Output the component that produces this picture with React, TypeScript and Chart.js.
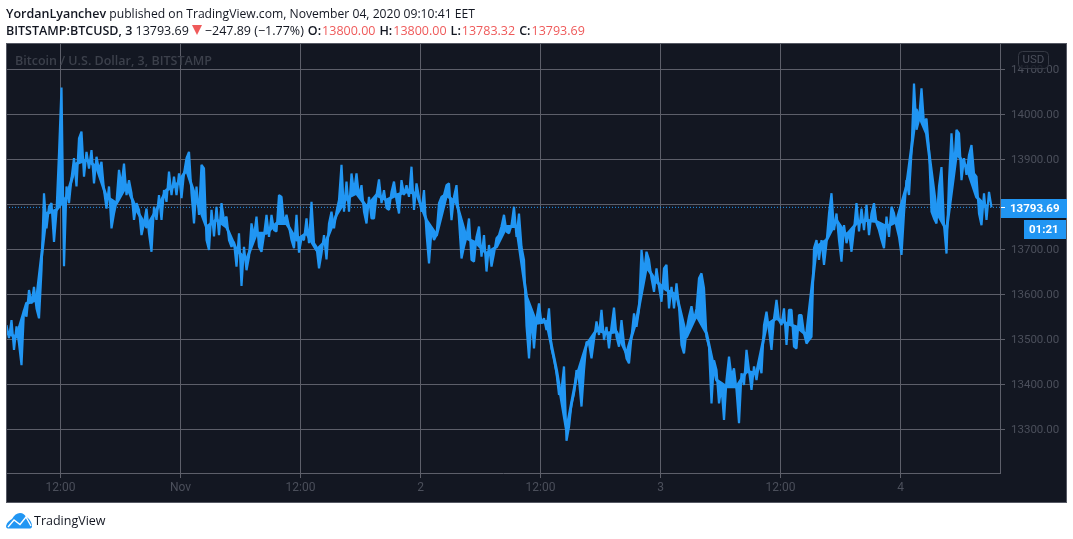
import { useEffect, useRef } from 'react';
import { Chart, registerables } from 'chart.js';

Chart.register(...registerables);

// 15 minute samples, t in hours from Oct 31 00:00
const startHour = 6.6;
const stepHours = 0.25;
// centre of the price band, read every hour; the trace is filled against it to close up the ribbon
const bandStepHours = 1;

const pricesOct31 = [
  13532, 13503, 13543, 13477, 13529, 13491, 13443, 13566, 13551, 13610, 13580, 13617, 13569, 13547, 13654, 13825,
  13747, 13795, 13803, 13717, 13784, 13914, 14060, 13663, 13840, 13803, 13858, 13903, 13840, 13947, 13962, 13862,
  13917, 13880, 13921, 13847, 13906, 13877, 13895, 13832, 13791, 13840, 13747, 13780, 13806, 13877, 13843, 13891,
  13821, 13854, 13825, 13766, 13803, 13788, 13732, 13758, 13791, 13736, 13695, 13795, 13766, 13821, 13766, 13832,
  13806, 13873, 13821, 13862, 13821, 13869, 13814, 13869, 13903, 13917, 13825, 13758, 13840, 13777, 13888, 13880,
  13721, 13699, 13788, 13729, 13795, 13732, 13803, 13766, 13773, 13721, 13706, 13717, 13662, 13736, 13619, 13706,
  13654, 13684, 13758, 13729, 13773, 13706,
];
const pricesNov1 = [
  13695, 13732, 13777, 13728, 13777, 13743, 13740, 13821, 13817, 13758, 13777, 13751, 13721, 13703, 13777, 13693,
  13725, 13721, 13769, 13714, 13806, 13714, 13706, 13658, 13691, 13732, 13678, 13758, 13784, 13747, 13784, 13810,
  13888, 13784, 13851, 13784, 13869, 13828, 13869, 13817, 13843, 13784, 13758, 13817, 13769, 13769, 13821, 13856,
  13803, 13832, 13792, 13788, 13828, 13851, 13810, 13780, 13854, 13821, 13843, 13817, 13884, 13788, 13847, 13817,
  13784, 13832, 13736, 13669, 13743, 13721, 13732, 13803, 13817, 13821, 13843, 13847, 13765, 13817, 13843, 13765,
  13680, 13706, 13728, 13769, 13677, 13673, 13728, 13751, 13684, 13732, 13651, 13710, 13662, 13691, 13725, 13732,
  13751, 13777, 13740, 13736, 13754, 13795, 13728, 13780, 13706, 13677, 13530,
];
const pricesNov2 = [
  13458, 13551, 13480, 13547, 13580, 13536, 13547, 13521, 13569, 13480, 13458, 13425, 13377, 13388, 13440, 13275,
  13306, 13358, 13380, 13432, 13410, 13351, 13432, 13495, 13491, 13458, 13499, 13540, 13510, 13566, 13499, 13528,
  13480, 13528, 13571, 13506, 13484, 13543, 13491, 13458, 13447, 13506, 13558, 13528, 13566, 13699, 13647, 13695,
  13677, 13636, 13606, 13658, 13617, 13584, 13658, 13666, 13569, 13617, 13569, 13625, 13573, 13488, 13469, 13521,
  13551, 13574, 13543, 13569, 13636, 13647, 13614, 13506, 13484, 13358, 13454, 13432, 13358, 13395, 13321, 13410,
  13462, 13417, 13436, 13388, 13314, 13425, 13399, 13477, 13432, 13388, 13440, 13410, 13447, 13425, 13532, 13562,
  13521, 13477, 13547, 13588, 13543, 13532, 13569, 13488, 13566, 13566, 13484, 13480, 13554, 13554, 13514, 13491,
];
const pricesNov3 = [
  13499, 13506, 13703, 13721, 13677, 13721, 13666, 13714, 13780, 13825, 13743, 13780, 13721, 13673, 13754, 13714,
  13740, 13695, 13743, 13803, 13740, 13791, 13743, 13799, 13732, 13780, 13803, 13758, 13743, 13721, 13703, 13773,
  13728, 13795, 13780, 13751, 13728, 13688, 13780, 13854, 13821, 13917, 14069, 13966, 13988, 14058, 13980, 13991,
  13921, 13784, 13769, 13758, 13840, 13883, 13754, 13691, 13854, 13958, 13877, 13966, 13958, 13854, 13903, 13866,
  13910, 13932, 13869, 13862, 13780, 13754, 13825, 13766, 13828, 13793.69,
];
const bandCentre = [
  13514, 13506, 13580, 13588, 13780, 13788, 13817, 13891, 13899, 13884, 13817, 13803, 13843, 13788, 13750, 13788,
  13832, 13843, 13877, 13810, 13750, 13766, 13750, 13699, 13677, 13736, 13736, 13758, 13758, 13721, 13736, 13699,
  13721, 13777, 13814, 13825, 13795, 13821, 13810, 13821, 13828, 13825, 13765, 13732, 13821, 13803, 13725, 13714,
  13691, 13706, 13751, 13751, 13595, 13536, 13540, 13432, 13299, 13417, 13488, 13521, 13514, 13517, 13469, 13543,
  13662, 13628, 13610, 13599, 13506, 13554, 13514, 13410, 13395, 13395, 13429, 13425, 13532, 13547, 13536, 13528,
  13510, 13706, 13721, 13765, 13732, 13758, 13765, 13762, 13751, 13762, 13840, 14010, 13958, 13784, 13743, 13914,
  13884, 13817, 13795,
];

const prices = [...pricesOct31, ...pricesNov1, ...pricesNov2, ...pricesNov3];
const lastPrice = 13793.69;

const priceTicks = [14100, 14000, 13900, 13800, 13700, 13600, 13500, 13400, 13300];
const timeTicks = [12, 24, 36, 48, 60, 72, 84, 96];
const timeLabels = ['12:00', 'Nov', '12:00', '2', '12:00', '3', '12:00', '4'];

const GRID = '#5d5f6a';
const AXIS_TEXT = '#4b4f5b';
const BLUE = '#2196f3';
const PANE = '#131722';

const panePlugin = {
  id: 'pane',
  beforeDraw(chart: any) {
    const { ctx } = chart;
    ctx.save();
    ctx.fillStyle = PANE;
    ctx.fillRect(6, 43, 1061, 459);
    ctx.restore();
  },
  beforeDatasetsDraw(chart: any) {
    const { ctx } = chart;
    ctx.save();
    ctx.fillStyle = '#3c404b';
    ctx.font = '600 12.5px "Open Sans"';
    ctx.textBaseline = 'middle';
    ctx.fillText('Bitcoin / U.S. Dollar, 3, BITSTAMP', 15, 61);
    ctx.restore();
  },
  afterDraw(chart: any) {
    const { ctx, scales } = chart;
    const y = Math.round(scales.y.getPixelForValue(lastPrice));
    ctx.save();
    // frame
    ctx.strokeStyle = '#565964';
    ctx.strokeRect(6.5, 43.5, 1060, 459);
    // usd badge
    ctx.fillStyle = 'rgba(19,23,34,0.75)';
    ctx.strokeStyle = '#363a45';
    ctx.beginPath();
    ctx.roundRect(1018.5, 51.5, 30, 17, 4);
    ctx.fill();
    ctx.stroke();
    ctx.fillStyle = AXIS_TEXT;
    ctx.font = '11.5px Roboto';
    ctx.textAlign = 'center';
    ctx.textBaseline = 'middle';
    ctx.fillText('USD', 1033.5, 60.5);
    // last price and countdown
    ctx.fillStyle = BLUE;
    ctx.fillRect(1001, y - 8, 66, 19);
    ctx.fillRect(1024, y + 13, 42, 19);
    ctx.fillStyle = '#ffffff';
    ctx.fillRect(1001, y, 4, 1);
    ctx.font = 'bold 11.5px Roboto';
    ctx.textAlign = 'left';
    ctx.fillText('13793.69', 1010, y + 2);
    ctx.fillText('01:21', 1029, y + 23);
    ctx.restore();
  },
};

const headerFont = '"Open Sans", sans-serif';
const red = '#ef5a5a';
const bold = { fontWeight: 600, fontSize: 12.5 };
const gap = { marginLeft: 4 };

export default function App() {
  const canvasRef = useRef<HTMLCanvasElement>(null);

  useEffect(() => {
    if (!canvasRef.current) return;
    const points = prices.map((p, i) => ({ x: startHour + i * stepHours, y: p }));
    const band = bandCentre.map((p, i) => ({ x: startHour + i * bandStepHours, y: p }));
    const chart = new Chart(canvasRef.current, {
      type: 'line',
      data: {
        datasets: [
          {
            data: points,
            borderColor: BLUE,
            borderWidth: 2.2,
            pointRadius: 0,
            tension: 0,
            borderJoinStyle: 'bevel',
            fill: { target: 1 },
            backgroundColor: BLUE,
          },
          {
            data: band,
            borderColor: BLUE,
            borderWidth: 3,
            pointRadius: 0,
            tension: 0,
            borderJoinStyle: 'round',
          },
          {
            data: [
              { x: 6.55, y: lastPrice },
              { x: 105.95, y: lastPrice },
            ],
            borderColor: BLUE,
            borderWidth: 1,
            borderDash: [1, 2],
            pointRadius: 0,
          },
        ],
      },
      options: {
        responsive: false,
        animation: false,
        devicePixelRatio: 1,
        layout: { padding: { left: 6, top: 43, right: 6, bottom: 37 } },
        plugins: { legend: { display: false }, tooltip: { enabled: false } },
        scales: {
          x: {
            type: 'linear',
            min: 6.55,
            max: 105.95,
            afterBuildTicks: (axis: any) => {
              axis.ticks = timeTicks.map((value) => ({ value }));
            },
            afterFit: (axis: any) => {
              axis.height = 29;
            },
            grid: { color: GRID, tickLength: 5, tickColor: GRID },
            border: { color: GRID },
            ticks: {
              color: AXIS_TEXT,
              font: { family: 'Roboto', size: 12 },
              padding: 3,
              maxRotation: 0,
              autoSkip: false,
              callback: (value: any) => timeLabels[timeTicks.indexOf(value)],
            },
          },
          y: {
            type: 'linear',
            position: 'right',
            min: 13203.3,
            max: 14158.9,
            afterBuildTicks: (axis: any) => {
              axis.ticks = priceTicks.map((value) => ({ value }));
            },
            afterFit: (axis: any) => {
              axis.width = 67;
            },
            grid: { color: GRID, tickLength: 5, tickColor: GRID },
            border: { color: GRID },
            ticks: {
              color: AXIS_TEXT,
              font: { family: 'Roboto', size: 11.5 },
              padding: 6,
              labelOffset: 1,
              autoSkip: false,
              callback: (value: any) => Number(value).toFixed(2),
            },
          },
        },
      },
      plugins: [panePlugin],
    } as any);
    return () => chart.destroy();
  }, []);

  return (
    <div style={{ position: 'absolute', left: 0, top: 0, width: 1073, height: 539, background: '#fff', overflow: 'hidden' }}>
      <canvas ref={canvasRef} width={1073} height={539} style={{ display: 'block' }} />
      <div style={{ position: 'absolute', left: 6, top: 5, font: `12.15px ${headerFont}`, color: '#131722', whiteSpace: 'nowrap' }}>
        <b style={bold}>YordanLyanchev</b> published on TradingView.com, November 04, 2020 09:10:41 EET
      </div>
      <div style={{ position: 'absolute', left: 6, top: 22, font: `12.5px ${headerFont}`, color: '#131722', whiteSpace: 'nowrap' }}>
        <b style={bold}>BITSTAMP:BTCUSD, 3</b> 13793.69
        <span style={{ display: 'inline-block', width: 0, height: 0, margin: '0 3px 0 3px', borderLeft: '5px solid transparent', borderRight: '5px solid transparent', borderTop: '10px solid ' + red }} />
        −247.89 (−1.77%)
        <b style={{ ...bold, ...gap }}>O:</b><span style={{ color: red, marginLeft: 1 }}>13800.00</span>
        <b style={{ ...bold, ...gap }}>H:</b><span style={{ color: red, marginLeft: 1 }}>13800.00</span>
        <b style={{ ...bold, ...gap }}>L:</b><span style={{ color: red, marginLeft: 1 }}>13783.32</span>
        <b style={{ ...bold, ...gap }}>C:</b><span style={{ color: red, marginLeft: 1 }}>13793.69</span>
      </div>
      <svg width="27" height="16" viewBox="0 0 27 16" style={{ position: 'absolute', left: 6, top: 513 }}>
        <path d="M0 13 C1 9 4 7 6 6 C8 2 11 0 14 0 C17 0 19 2 20 4 C23 5 26 9 26 13 C26 15 25 15.5 23 15.5 L3 15.5 C1 15.5 0 15 0 13 Z" fill={BLUE} />
        <path d="M2 14 L8 7 L14 11.5 L20 4 L25 13" fill="none" stroke="#fff" strokeWidth="1.4" />
      </svg>
      <div style={{ position: 'absolute', left: 34, top: 512, font: `12.5px ${headerFont}`, color: '#131722', whiteSpace: 'nowrap' }}>TradingView</div>
    </div>
  );
}
